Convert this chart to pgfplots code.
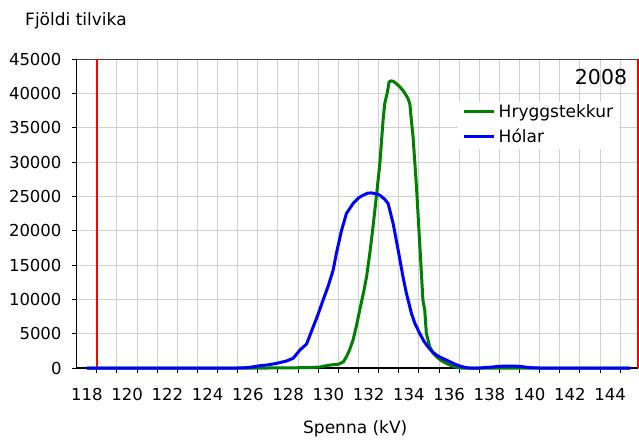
\documentclass[border=0pt]{standalone}
\usepackage{fontspec}
\setmainfont{DejaVu Sans}
\usepackage{pgfplots}
\pgfplotsset{compat=1.18}
\definecolor{cgreen}{RGB}{0,128,0}
\definecolor{cblue}{RGB}{0,0,255}
\definecolor{cgrid}{RGB}{208,208,208}
\begin{document}
\begin{tikzpicture}[font=\fontsize{17}{20.4}\selectfont]
\useasboundingbox (-76.7pt,-71pt) rectangle (562.3pt,368pt);
\begin{axis}[
  at={(0pt,0pt)}, anchor=south west,
  scale only axis, width=561.6pt, height=308.7pt,
  xmin=117.5, xmax=145.4, ymin=0, ymax=45000,
  clip=false,
  axis line style={draw=none},
  tick align=outside, major tick length=5pt,
  xtick={118.5,119.5,...,144.5}, xticklabels={},
  extra x ticks={118,120,...,144},
  extra x tick style={major tick length=0pt, grid=none},
  extra x tick labels={118,120,122,124,126,128,130,132,134,136,138,140,142,144},
  xtick pos=bottom, ytick pos=left,
  ytick={0,5000,...,45000},
  scaled y ticks=false,
  /pgf/number format/assume math mode=true,
  /pgf/number format/1000 sep={},
  xmajorgrids, ymajorgrids,
  major grid style={cgrid, line width=1pt},
  tick style={black, line width=1pt},
  tick label style={font=\fontsize{16.5}{19.8}\selectfont},
  xticklabel style={anchor=base, inner sep=0pt, yshift=-32pt},
  yticklabel style={anchor=east, inner sep=0pt, xshift=-10pt},
  every axis x label/.style={at={(axis description cs:0.496,0)}, anchor=base, yshift=-65pt, inner sep=0pt},
  every axis y label/.style={at={(axis description cs:-0.092,1.111)}, anchor=base west, inner sep=0pt},
  xlabel={Spenna (kV)},
  ylabel={Fjöldi tilvika},
  legend style={at={(axis description cs:0.679,0.862)}, anchor=north west, draw=none, fill=white,
    inner xsep=4pt, inner ysep=2pt, row sep=7pt, column sep=2pt,
    nodes={inner sep=1.5pt, text height=12pt, text depth=3pt, anchor=base west}},
  legend image code/.code={\draw[#1] (0pt,6.5pt) -- (30pt,6.5pt);},
  legend cell align=left,
]
\draw[black, line width=1.3pt] (rel axis cs:0,0) -- (rel axis cs:0,1);
\draw[black!75, line width=1.3pt] (rel axis cs:0,1) -- (rel axis cs:1,1);
\draw[black, line width=2pt] (rel axis cs:0,0) -- (rel axis cs:1,0);
\draw[red, line width=2pt] (axis cs:118.5,0) -- (axis cs:118.5,45000);
\draw[red, line width=2pt] (axis cs:145.4,0) -- (axis cs:145.4,45000);

\addplot[cgreen, line width=3pt] coordinates {
(118,0) (127,0) (129,50) (129.6,150) (130,400) (130.5,550) (130.75,900)
(130.9,1650) (131.05,2600) (131.23,4080) (131.4,6200) (131.56,8440)
(131.75,11000) (131.9,13300) (132.06,16700) (132.22,20570) (132.42,25900)
(132.56,29800) (132.72,36100) (132.8,38500) (132.92,40000) (133.02,41700)
(133.12,41850) (133.22,41800) (133.4,41400) (133.55,41000) (133.75,40300)
(133.96,39270) (134.05,38500) (134.13,36000) (134.21,33700) (134.38,26400)
(134.54,18150) (134.7,9900) (134.79,8440) (134.87,5050) (135.04,3100)
(135.2,2200) (135.37,1650) (135.6,1100) (135.87,680) (136.1,350)
(136.36,100) (136.6,0) (145,0)
};
\addlegendentry{Hryggstekkur}
\addplot[cblue, line width=3pt] coordinates {
(118,0) (125.5,0) (126,50) (126.6,330) (127,450) (127.43,680) (127.9,1000)
(128.25,1410) (128.59,2620) (128.92,3500) (129.25,6000) (129.5,7900)
(129.74,9900) (130.0,12000) (130.24,14270) (130.4,16700) (130.66,20100)
(130.9,22520) (131.23,23980) (131.5,24800) (131.73,25190) (131.95,25480)
(132.14,25520) (132.35,25400) (132.56,25190) (132.8,24600) (132.97,23980)
(133.22,21070) (133.47,17180) (133.71,13300) (133.88,10880) (134.13,7960)
(134.3,6500) (134.54,5050) (134.75,3900) (134.95,3100) (135.15,2400)
(135.37,1890) (135.6,1500) (135.87,1160) (136.03,920) (136.3,550)
(136.53,290) (136.8,80) (137,0) (137.5,0) (138,100) (138.5,250)
(139,280) (139.5,250) (140,50) (140.5,0) (145,0)
};
\addlegendentry{Hólar}
\node[anchor=base east, font=\fontsize{20.5}{24}\selectfont, inner sep=0pt]
  at (axis description cs:1,1) [xshift=-11pt, yshift=-24.7pt] {2008};
\end{axis}
\end{tikzpicture}
\end{document}
